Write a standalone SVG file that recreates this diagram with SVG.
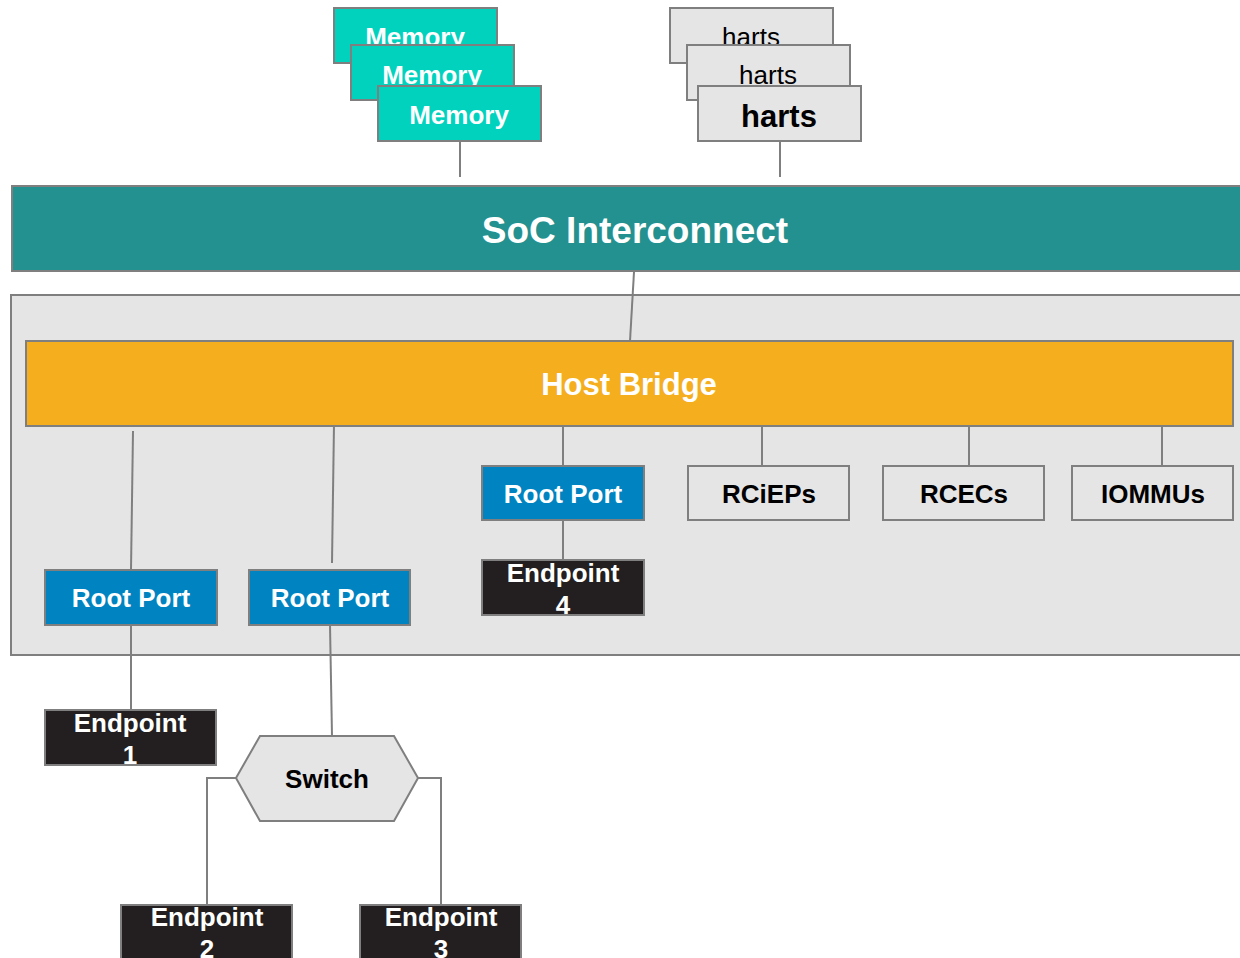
<svg xmlns="http://www.w3.org/2000/svg" width="1240" height="958" viewBox="0 0 1240 958">
  <style>
    text { font-family: "Liberation Sans", Arial, sans-serif; font-weight: bold; text-anchor: middle; }
    .box { stroke: #7f7f7f; stroke-width: 2; }
    .mem { fill: #00d2be; }
    .hart { fill: #e5e5e5; }
    .rp { fill: #0084c1; }
    .ep { fill: #231f20; }
    .plain { fill: #e5e5e5; }
    .w { fill: #ffffff; font-size: 26px; }
    .k { fill: #000000; font-size: 26px; }
    .conn { fill: none; stroke: #7f7f7f; stroke-width: 2; }
  </style>
  <rect width="1240" height="958" fill="#ffffff"/>

  <!-- PCIe domain container -->
  <rect id="domain" x="11" y="295" width="1240" height="360" fill="#e5e5e5" stroke="#7f7f7f" stroke-width="2"/>

  <!-- connectors -->
  <g id="connectors" class="conn">
    <line x1="460" y1="141" x2="460" y2="177"/>
    <line x1="780" y1="141" x2="780" y2="177"/>
    <line x1="634" y1="272" x2="630" y2="341"/>
    <line x1="133" y1="431" x2="131" y2="570"/>
    <line x1="334" y1="424" x2="332" y2="563"/>
    <line x1="563" y1="426" x2="563" y2="466"/>
    <line x1="762" y1="426" x2="762" y2="466"/>
    <line x1="969" y1="426" x2="969" y2="466"/>
    <line x1="1162" y1="426" x2="1162" y2="466"/>
    <line x1="563" y1="520" x2="563" y2="560"/>
    <line x1="131" y1="625" x2="131" y2="710"/>
    <line x1="330" y1="625" x2="332" y2="736"/>
    <polyline points="236,778 207,778 207,905"/>
    <polyline points="418,778 441,778 441,905"/>
  </g>

  <!-- memories -->
  <g id="memory1">
    <rect class="box mem" x="334" y="8" width="163" height="55"/>
    <text class="w" x="415" y="46">Memory</text>
  </g>
  <g id="memory2">
    <rect class="box mem" x="351" y="45" width="163" height="55"/>
    <text class="w" x="432" y="84">Memory</text>
  </g>
  <g id="memory3">
    <rect class="box mem" x="378" y="86" width="163" height="55"/>
    <text class="w" x="459" y="124">Memory</text>
  </g>

  <!-- harts -->
  <g id="harts1">
    <rect class="box hart" x="670" y="8" width="163" height="55"/>
    <text class="k" x="751" y="46" font-weight="normal" style="font-weight:normal">harts</text>
  </g>
  <g id="harts2">
    <rect class="box hart" x="687" y="45" width="163" height="55"/>
    <text class="k" x="768" y="84" style="font-weight:normal">harts</text>
  </g>
  <g id="harts3">
    <rect class="box hart" x="698" y="86" width="163" height="55"/>
    <text class="k" x="779" y="127" style="font-size:31px">harts</text>
  </g>

  <!-- SoC interconnect -->
  <g id="soc">
    <rect x="12" y="186" width="1240" height="85" fill="#23918f" stroke="#7f7f7f" stroke-width="2"/>
    <text x="635" y="243" fill="#ffffff" font-size="37">SoC Interconnect</text>
  </g>

  <!-- host bridge -->
  <g id="hostbridge">
    <rect x="26" y="341" width="1207" height="85" fill="#f5ae1e" stroke="#7f7f7f" stroke-width="2"/>
    <text x="629" y="395" fill="#ffffff" font-size="31">Host Bridge</text>
  </g>

  <!-- root ports -->
  <g id="rootport1">
    <rect class="box rp" x="45" y="570" width="172" height="55"/>
    <text class="w" x="131" y="607">Root Port</text>
  </g>
  <g id="rootport2">
    <rect class="box rp" x="249" y="570" width="161" height="55"/>
    <text class="w" x="330" y="607">Root Port</text>
  </g>
  <g id="rootport3">
    <rect class="box rp" x="482" y="466" width="162" height="54"/>
    <text class="w" x="563" y="503">Root Port</text>
  </g>

  <!-- RC integrated functions -->
  <g id="rcieps">
    <rect class="box plain" x="688" y="466" width="161" height="54"/>
    <text class="k" x="769" y="503">RCiEPs</text>
  </g>
  <g id="rcecs">
    <rect class="box plain" x="883" y="466" width="161" height="54"/>
    <text class="k" x="964" y="503">RCECs</text>
  </g>
  <g id="iommus">
    <rect class="box plain" x="1072" y="466" width="161" height="54"/>
    <text class="k" x="1153" y="503">IOMMUs</text>
  </g>

  <!-- endpoints -->
  <g id="endpoint4">
    <rect class="box ep" x="482" y="560" width="162" height="55"/>
    <text class="w" x="563" y="582">Endpoint</text>
    <text class="w" x="563" y="614">4</text>
  </g>
  <g id="endpoint1">
    <rect class="box ep" x="45" y="710" width="171" height="55"/>
    <text class="w" x="130" y="732">Endpoint</text>
    <text class="w" x="130" y="764">1</text>
  </g>
  <g id="endpoint2">
    <rect class="box ep" x="121" y="905" width="171" height="60"/>
    <text class="w" x="207" y="926">Endpoint</text>
    <text class="w" x="207" y="958">2</text>
  </g>
  <g id="endpoint3">
    <rect class="box ep" x="360" y="905" width="161" height="60"/>
    <text class="w" x="441" y="926">Endpoint</text>
    <text class="w" x="441" y="958">3</text>
  </g>

  <!-- switch -->
  <g id="switch">
    <polygon class="box plain" points="236,778 260,736 394,736 418,778 394,821 260,821"/>
    <text class="k" x="327" y="788">Switch</text>
  </g>
</svg>
